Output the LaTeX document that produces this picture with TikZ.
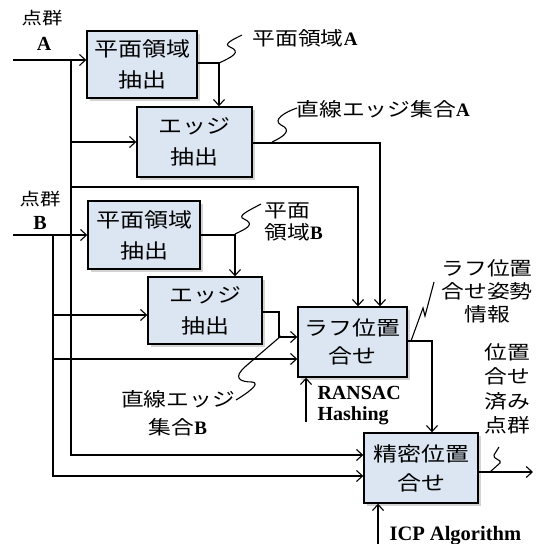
\documentclass[tikz,border=0pt]{standalone}
\usepackage{fontspec}
\setmainfont{Liberation Serif}
\newfontfamily\jp[FakeStretch=1.2]{Noto Sans CJK JP}
\newcommand{\lat}[1]{{\rmfamily\bfseries #1}}
\usetikzlibrary{arrows.meta,shadows,calc}
\definecolor{boxfill}{HTML}{DCE6F2}
\begin{document}
\begin{tikzpicture}[x=1pt,y=-1pt,line width=1.1pt,
  arr/.style={-{Straight Barb[length=6pt,width=11pt,line width=1.1pt]}},
  box/.style={draw=black,line width=1.4pt,fill=boxfill,align=center,inner sep=0pt,
    font=\jp\fontsize{20}{31}\selectfont,
    drop shadow={opacity=0.35,shadow xshift=3pt,shadow yshift=-3pt}},
  lbl/.style={font=\jp\fontsize{19}{23}\selectfont,inner sep=0pt},
  en/.style={font=\bfseries\fontsize{20}{21}\selectfont,inner sep=0pt},
  squig/.style={line width=1.1pt}]
\useasboundingbox (0,0) rectangle (538,544);
% boxes
\node[box,minimum width=110pt,minimum height=67pt] (PA) at (142,64.5) {平面領域\\抽出};
\node[box,minimum width=115pt,minimum height=70pt] (EA) at (194.5,142) {エッジ\\抽出};
\node[box,minimum width=112pt,minimum height=68pt] (PB) at (144,235) {平面領域\\抽出};
\node[box,minimum width=114pt,minimum height=67pt] (EB) at (205,310.5) {エッジ\\抽出};
\node[box,minimum width=109pt,minimum height=70pt,font=\jp\fontsize{20}{28}\selectfont] (R) at (352.5,342) {ラフ位置\\合せ};
\node[box,minimum width=114pt,minimum height=70pt,font=\jp\fontsize{20}{29}\selectfont] (F) at (421,468) {精密位置\\合せ};
% input labels
\node[lbl,font=\jp\fontsize{17}{20}\selectfont] (tA) at (42,18) {点群};
\node[en] (tAA) at (44,44) {A};
\node[lbl,font=\jp\fontsize{17}{20}\selectfont] (tB) at (40,199) {点群};
\node[en] (tBB) at (40,223) {B};
% connectors
\draw[arr] (13,60) -- (PA.west |- 0,60);
\draw[arr] (71,60) -- (71,455) -- (F.west |- 0,455);
\draw[arr] (71,142) -- (EA.west |- 0,142);
\draw[arr] (71,187) -- (358,187) -- (R.north -| 358,0);
\draw[arr] (EA.east |- 0,143) -- (380,143) -- (R.north -| 380,0);
\draw[arr] (PA.east |- 0,63) -- (219,63) -- (EA.north -| 219,0);
\draw[arr] (13,235) -- (PB.west |- 0,235);
\draw[arr] (53,235) -- (53,476) -- (F.west |- 0,476);
\draw[arr] (53,315) -- (EB.west |- 0,315);
\draw[arr] (53,359) -- (R.west |- 0,359);
\draw[arr] (EB.east |- 0,312) -- (279,312) -- (279,337) -- (R.west |- 0,337);
\draw[arr] (PB.east |- 0,235) -- (235,235) -- (EB.north -| 235,0);
\draw[arr] (R.east |- 0,341) -- (432,341) -- (F.north -| 432,0);
\draw[arr] (306,422) -- (R.south -| 306,0);
\draw[arr] (F.east |- 0,472) -- (533,472);
\draw[arr] (378,544) -- (F.south -| 378,0);
% squiggles
\draw[squig] (219,63) .. controls (232,57) and (242,52) .. (230,47) .. controls (223,44) and (232,40) .. (242,35);
\draw[squig] (272,142) .. controls (285,136) and (292,130) .. (281,125) .. controls (272,120) and (285,112) .. (297,108);
\draw[squig] (235,234) .. controls (248,228) and (255,224) .. (244,219) .. controls (236,216) and (250,210) .. (261,204);
\draw[squig] (281,336) -- (246,366) .. controls (232,378) and (240,382) .. (252,382) .. controls (262,383) and (246,394) .. (236,400);
\draw[squig] (411,341) -- (423,308) -- (425,316) -- (434,282);
\draw[squig] (490,472) -- (500,463) .. controls (503,460) and (492,459) .. (494,455) -- (499,447);
% labels
\node[lbl,anchor=west] (lPA) at (252,38) {平面領域\lat{A}};
\node[lbl,anchor=west] (lEA) at (296,109) {直線エッジ集合\lat{A}};
\node[lbl,anchor=west,align=left,font=\jp\fontsize{19}{22}\selectfont] (lPB) at (264,222) {平面\\領域\lat{B}};
\node[lbl,align=center,font=\jp\fontsize{19}{28}\selectfont] (lEB) at (178,413) {直線エッジ\\集合\lat{B}};
\node[lbl,align=center,font=\jp\fontsize{19}{23}\selectfont] (lR) at (487,291) {ラフ位置\\合せ姿勢\\情報};
\node[lbl,align=center,font=\jp\fontsize{19}{24.5}\selectfont] (lF) at (507,389) {位置\\合せ\\済み\\点群};
\node[en,anchor=west,align=left,font=\bfseries\fontsize{20}{21}\selectfont] (ran) at (317,406) {RANSAC\\Hashing};
\node[en,anchor=base west,font=\bfseries\fontsize{20.5}{21}\selectfont] (icp) at (389,540) {ICP Algorithm};
\end{tikzpicture}
\end{document}
